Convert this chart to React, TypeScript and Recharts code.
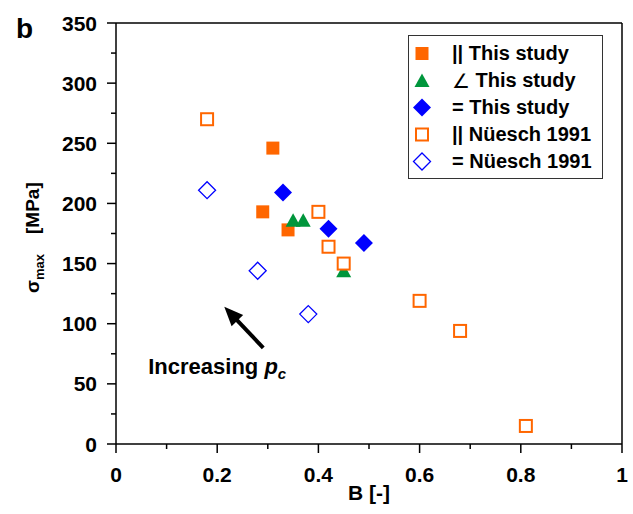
import React from 'react';
import { ScatterChart, Scatter, XAxis, YAxis, ReferenceLine, Legend } from 'recharts';

// || This study
const parB = [0.31, 0.29, 0.34];
const parS = [246, 193, 178];
// ∠ This study
const angB = [0.35, 0.37, 0.45];
const angS = [186, 186, 144];
// = This study
const perpB = [0.33, 0.42, 0.49];
const perpS = [209, 179, 167];
// || Nüesch 1991
const nParB = [0.18, 0.4, 0.42, 0.45, 0.6, 0.68, 0.81];
const nParS = [270, 193, 164, 150, 119, 94, 15];
// = Nüesch 1991
const nPerpB = [0.18, 0.28, 0.38];
const nPerpS = [211, 144, 108];

const seriesNames = ['|| This study', '∠ This study', '= This study', '|| Nüesch 1991', '= Nüesch 1991'];

const bTicks = [0, 0.1, 0.2, 0.3, 0.4, 0.5, 0.6, 0.7, 0.8, 0.9, 1];
const sigmaTicks = [0, 25, 50, 75, 100, 125, 150, 175, 200, 225, 250, 275, 300, 325, 350];

// arrow annotation (B, sigma) from tail to tip
const arrowFrom = { x: 0.291, y: 80 };
const arrowTo = { x: 0.214, y: 114 };

const toPoints = (bs: number[], ss: number[]) => bs.map((b, i) => ({ b, s: ss[i] }));

const FONT = '"Liberation Sans", Arial, Helvetica, sans-serif';
const ORANGE = '#FF6600';
const GREEN = '#00963C';
const BLUE = '#0000FF';

const FilledSquare = ({ cx, cy }: any) => <rect x={cx - 6.5} y={cy - 6.5} width={13} height={13} fill={ORANGE} />;
const OpenSquare = ({ cx, cy }: any) => (
  <rect x={cx - 6} y={cy - 6} width={12} height={12} fill="#fff" stroke={ORANGE} strokeWidth={2} />
);
const Triangle = ({ cx, cy }: any) => (
  <polygon points={`${cx},${cy - 7} ${cx + 7.5},${cy + 6.5} ${cx - 7.5},${cy + 6.5}`} fill={GREEN} />
);
const FilledDiamond = ({ cx, cy }: any) => (
  <polygon points={`${cx},${cy - 9} ${cx + 9},${cy} ${cx},${cy + 9} ${cx - 9},${cy}`} fill={BLUE} />
);
const OpenDiamond = ({ cx, cy }: any) => (
  <polygon
    points={`${cx},${cy - 8.5} ${cx + 8.5},${cy} ${cx},${cy + 8.5} ${cx - 8.5},${cy}`}
    fill="#fff"
    stroke={BLUE}
    strokeWidth={1.3}
  />
);

const markers = [FilledSquare, Triangle, FilledDiamond, OpenSquare, OpenDiamond];

const isMajor = (v: number, step: number) => Math.abs(v / step - Math.round(v / step)) < 1e-6;

const AxisTick = (props: any) => {
  const { x, y, payload, side, step, showLabel } = props;
  const v = payload.value;
  const major = isMajor(v, step);
  const len = major ? 9 : 5;
  let line;
  let label = null;
  if (side === 'bottom') {
    line = <line x1={x} y1={y} x2={x} y2={y + len} />;
    if (showLabel && major)
      label = (
        <text x={x} y={y + 38} textAnchor="middle" fontSize={21} fontWeight="bold" fill="#000" stroke="none">
          {String(v)}
        </text>
      );
  } else if (side === 'top') {
    line = <line x1={x} y1={y} x2={x} y2={y - len} />;
  } else if (side === 'left') {
    line = <line x1={x} y1={y} x2={x - len} y2={y} />;
    if (showLabel && major)
      label = (
        <text x={x - 19} y={y + 7.5} textAnchor="end" fontSize={21} fontWeight="bold" fill="#000" stroke="none">
          {String(v)}
        </text>
      );
  } else {
    line = <line x1={x} y1={y} x2={x + len} y2={y} />;
  }
  return (
    <g stroke="#000" strokeWidth={1.5} fontFamily={FONT}>
      {line}
      {label}
    </g>
  );
};

const Arrow = (props: any) => {
  const { x1, y1, x2, y2 } = props;
  const dx = x2 - x1;
  const dy = y2 - y1;
  const L = Math.sqrt(dx * dx + dy * dy);
  const ux = dx / L;
  const uy = dy / L;
  const headLen = 19;
  const halfW = 8;
  const bx = x2 - ux * headLen;
  const by = y2 - uy * headLen;
  return (
    <g>
      <line x1={x1} y1={y1} x2={bx + ux * 2} y2={by + uy * 2} stroke="#000" strokeWidth={4} />
      <polygon
        points={`${x2},${y2} ${bx - uy * halfW},${by + ux * halfW} ${bx + uy * halfW},${by - ux * halfW}`}
        fill="#000"
      />
      <text x={x1 - 115} y={y1 + 26} fontFamily={FONT} fontSize={22} fontWeight="bold" fill="#000">
        Increasing{' '}
        <tspan fontStyle="italic">p</tspan>
        <tspan fontStyle="italic" fontSize={15} dy={5}>
          c
        </tspan>
      </text>
    </g>
  );
};

const LegendBox = () => (
  <div
    style={{
      width: 193,
      border: '1px solid #333',
      background: '#fff',
      paddingTop: 4,
      paddingBottom: 3,
      fontFamily: FONT,
      fontSize: 20,
      fontWeight: 'bold',
      color: '#000',
    }}
  >
    {seriesNames.map((name, i) => {
      const M = markers[i];
      const [prefix, ...rest] = name.split(' ');
      return (
        <div key={name} style={{ height: 27, display: 'flex', alignItems: 'center', whiteSpace: 'nowrap' }}>
          <svg width={26} height={27} style={{ marginRight: 17, flex: 'none' }}>
            <M cx={13} cy={13.5} />
          </svg>
          <span style={{ fontWeight: prefix === '∠' ? 'normal' : 'bold' }}>{prefix}</span>
          <span>&nbsp;{rest.join(' ')}</span>
        </div>
      );
    })}
  </div>
);

const YTitle = () => (
  <text
    transform="rotate(-90, 39, 293)"
    x={39}
    y={293}
    fontFamily={FONT}
    fontWeight="bold"
    fontSize={19}
    fill="#000"
  >
    σ
    <tspan fontSize={13} dy={5}>
      max
    </tspan>
    <tspan dy={-5} dx={20}>
      [MPa]
    </tspan>
  </text>
);

export default function App() {
  const series = [
    toPoints(parB, parS),
    toPoints(angB, angS),
    toPoints(perpB, perpS),
    toPoints(nParB, nParS),
    toPoints(nPerpB, nPerpS),
  ];
  return (
    <div style={{ position: 'absolute', left: 0, top: 0, width: 633, height: 514, background: '#fff' }}>
      <ScatterChart width={633} height={514} margin={{ top: 10, right: 0, bottom: 10, left: 56 }}>
        <XAxis
          xAxisId="bottom"
          type="number"
          dataKey="b"
          domain={[0, 1]}
          ticks={bTicks}
          interval={0}
          orientation="bottom"
          height={60}
          tickSize={0}
          tickMargin={0}
          tickLine={false}
          axisLine={{ stroke: '#000', strokeWidth: 1.5 }}
          tick={(p: any) => <AxisTick {...p} side="bottom" step={0.2} showLabel />}
          label={{
            value: 'B [-]',
            position: 'insideBottom',
            offset: 4,
            fill: '#000',
            fontSize: 21,
            fontWeight: 'bold',
            fontFamily: FONT,
          }}
        />
        <XAxis
          xAxisId="top"
          type="number"
          domain={[0, 1]}
          ticks={bTicks}
          interval={0}
          orientation="top"
          height={13}
          tickSize={0}
          tickMargin={0}
          tickLine={false}
          axisLine={{ stroke: '#000', strokeWidth: 1.5 }}
          tick={(p: any) => <AxisTick {...p} side="top" step={0.2} />}
        />
        <YAxis
          yAxisId="left"
          type="number"
          dataKey="s"
          domain={[0, 350]}
          ticks={sigmaTicks}
          interval={0}
          orientation="left"
          width={60}
          tickSize={0}
          tickMargin={0}
          tickLine={false}
          axisLine={{ stroke: '#000', strokeWidth: 1.5 }}
          tick={(p: any) => <AxisTick {...p} side="left" step={50} showLabel />}
          label={{ content: () => <YTitle /> }}
        />
        <YAxis
          yAxisId="right"
          type="number"
          domain={[0, 350]}
          ticks={sigmaTicks}
          interval={0}
          orientation="right"
          width={11}
          tickSize={0}
          tickMargin={0}
          tickLine={false}
          axisLine={{ stroke: '#000', strokeWidth: 1.5 }}
          tick={(p: any) => <AxisTick {...p} side="right" step={50} />}
        />
        {series.map((data, i) => {
          const M = markers[i];
          return (
            <Scatter
              key={seriesNames[i]}
              name={seriesNames[i]}
              data={data}
              xAxisId="bottom"
              yAxisId="left"
              isAnimationActive={false}
              shape={(p: any) => <M cx={p.cx} cy={p.cy} />}
            />
          );
        })}
        <ReferenceLine
          xAxisId="bottom"
          yAxisId="left"
          segment={[arrowFrom, arrowTo]}
          shape={(p: any) => <Arrow {...p} />}
        />
        <Legend
          layout="horizontal"
          verticalAlign="middle"
          align="center"
          wrapperStyle={{ left: 408, top: 35, width: 'auto', height: 'auto' }}
          content={() => <LegendBox />}
        />
      </ScatterChart>
      <div
        style={{
          position: 'absolute',
          left: 16,
          top: 12,
          fontFamily: FONT,
          fontSize: 28,
          fontWeight: 'bold',
          color: '#000',
          lineHeight: '34px',
        }}
      >
        b
      </div>
    </div>
  );
}
